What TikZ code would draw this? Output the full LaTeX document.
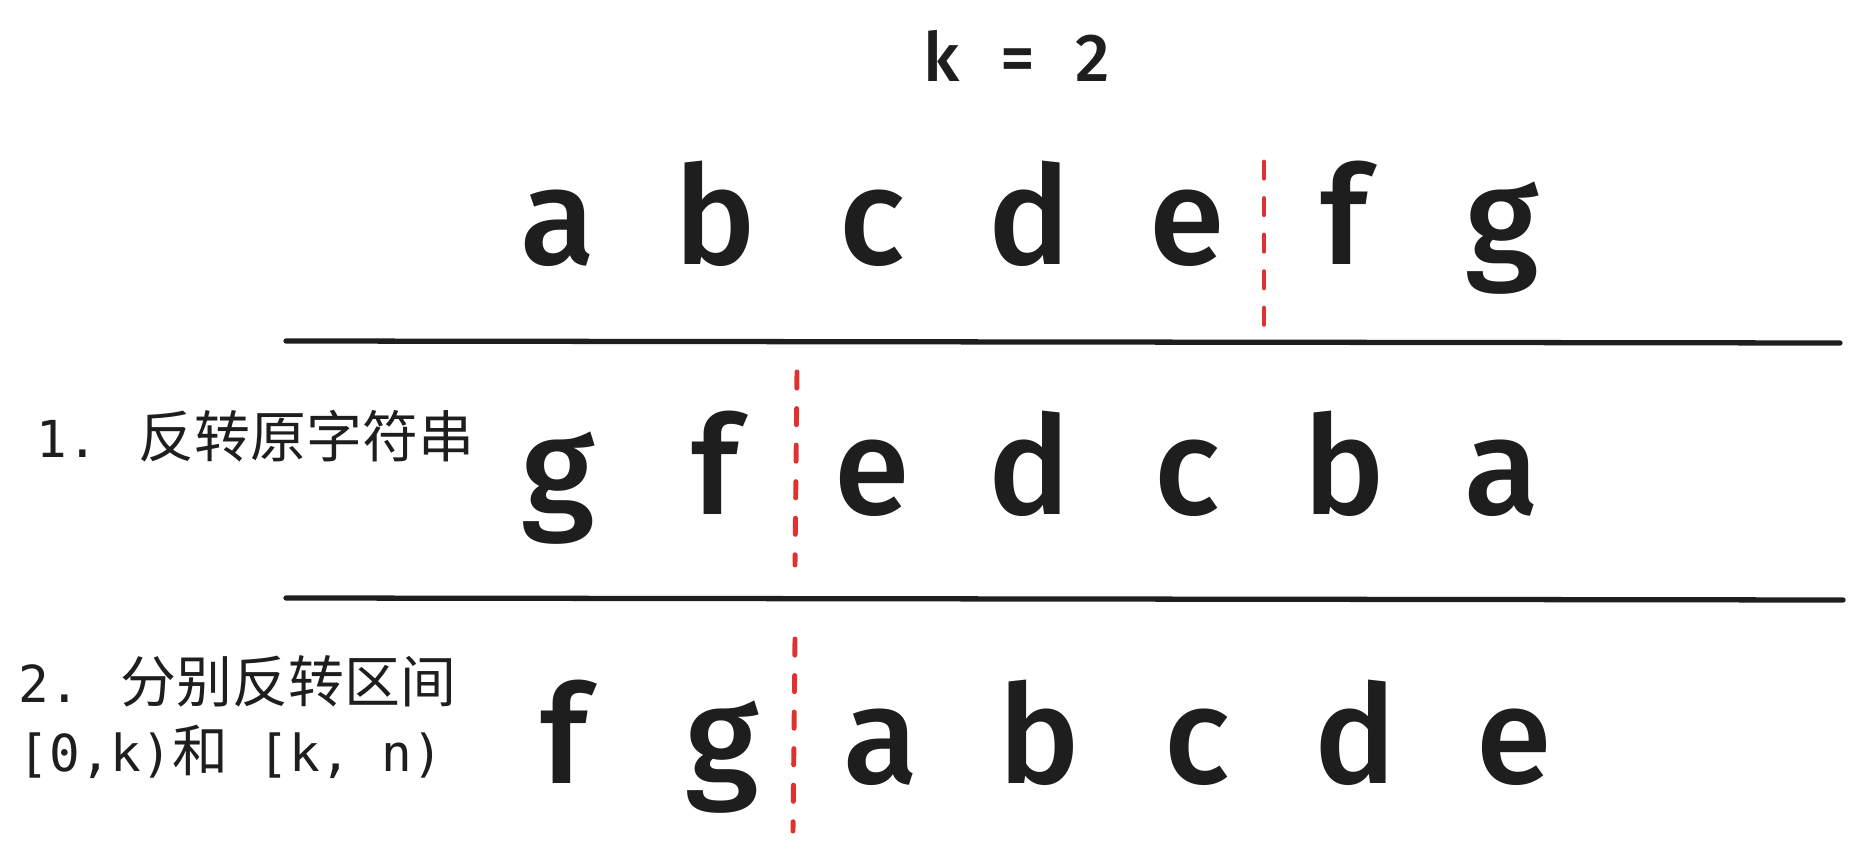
\documentclass[tikz,border=0pt]{standalone}
\usepackage{fontspec}
\setmainfont{Fira Sans Medium}
\newfontfamily\cjk{Noto Sans CJK SC}
\newfontfamily\mono{DejaVu Sans Mono}
\usetikzlibrary{positioning}
\definecolor{ink}{HTML}{1E1E1E}
\definecolor{cutred}{HTML}{E03131}
\newcommand{\latn}[1]{{\mono\fontsize{14.5}{19.9}\selectfont #1}}
\newcommand{\han}[1]{{\cjk\fontsize{15.9}{19.9}\selectfont #1}}

\begin{document}
\begin{tikzpicture}[x=1cm, y=1cm,
  every node/.style = {inner sep=0pt, text=ink},
  letter/.style = {anchor=base, font=\fontsize{39}{39}\selectfont},
  note/.style = {anchor=base west, align=left, font=\fontsize{15.9}{19.9}\selectfont},
  bar/.style = {draw=ink, line width=1.5pt, line cap=round},
  cut/.style = {draw=cutred, line width=1.4pt, line cap=round, dash pattern=on 4.6pt off 5.8pt}]
  \useasboundingbox (0,0) rectangle (18.61,-8.55);
  \node[anchor=base, font=\fontsize{19.3}{19.3}\selectfont] (k) at (10.17,-0.82) {\spaceskip=0.6em k = 2};
  % original, reversed, reversed in two parts
  \foreach \ch [count=\i] in {a,b,c,d,e,f,g}
    \node[letter] (top\i) at ({5.58+1.573*(\i-1)},-2.65) {\ch};
  \foreach \ch [count=\i] in {g,f,e,d,c,b,a}
    \node[letter] (rev\i) at ({5.58+1.573*(\i-1)},-5.15) {\ch};
  \foreach \ch [count=\i] in {f,g,a,b,c,d,e}
    \node[letter] (rot\i) at ({5.64+1.583*(\i-1)},-7.83) {\ch};
  \node[note] (step1) at (0.36,-4.58) {\latn{1. }\han{反转原字符串}};
  \node[note] (step2) at (0.18,-7.72) {\latn{2. }\han{分别反转区间}\\ \latn{[0,k)}\han{和}\latn{ [k, n)}};
  \coordinate (bar1l) at (2.86,-3.41);
  \coordinate (bar1r) at (18.40,-3.43);
  \coordinate (bar2l) at (2.86,-5.98);
  \coordinate (bar2r) at (18.43,-6.00);
  \draw[bar] (bar1l) -- (bar1r);
  \draw[bar] (bar2l) -- (bar2r);
  \coordinate (cut1a) at (12.64,-1.62);
  \coordinate (cut1b) at (12.64,-3.26);
  \coordinate (cut2a) at (7.97,-3.72);
  \coordinate (cut2b) at (7.95,-5.65);
  \coordinate (cut3a) at (7.95,-6.39);
  \coordinate (cut3b) at (7.93,-8.31);
  \draw[cut] (cut1a) -- (cut1b);
  \draw[cut] (cut2a) -- (cut2b);
  \draw[cut] (cut3a) -- (cut3b);
\end{tikzpicture}
\end{document}
